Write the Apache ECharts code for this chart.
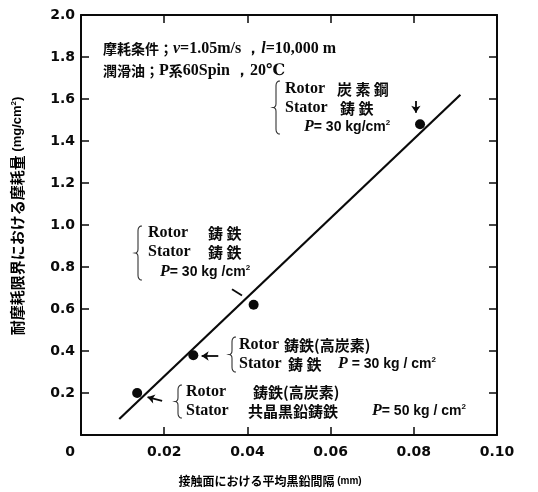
<!DOCTYPE html>
<html>
<head>
<meta charset="utf-8">
<script src="https://cdn.jsdelivr.net/npm/echarts@6/dist/echarts.min.js"></script>
<style>
html, body { margin: 0; padding: 0; background: #fff; }
#chart { width: 538px; height: 492px; }
</style>
</head>
<body>
<div id="chart"></div>
<script>
// Axis ranges and tick steps
const xRange = [0, 0.10];
const xStep = 0.02;
const yRange = [0, 2.0];
const yStep = 0.2;

// Measured points: mean graphite spacing on the contact face (mm) vs wear (mg/cm^2)
const spacing = [0.0815, 0.0415, 0.027, 0.0135];
const wear = [1.48, 0.62, 0.38, 0.20];

// End points of the fitted straight line
const fitSpacing = [0.0092, 0.0912];
const fitWear = [0.076, 1.62];

// Leader marks from each note to its point
const leaderFrom = [[0.0805, 1.59], [0.0363, 0.694], [0.0330, 0.376], [0.0195, 0.162]];
const leaderTo = [[0.0805, 1.535], [0.0387, 0.664], [0.0290, 0.376], [0.0160, 0.180]];
const leaderArrow = [true, false, true, true];

const INK = '#0a0a0a';
const SERIF = '"Liberation Serif", "DejaVu Serif", serif';
const SANS = '"Liberation Sans", "DejaVu Sans", sans-serif';
const CJK = '"Noto Sans CJK JP", "Noto Sans CJK SC", sans-serif';

const chart = echarts.init(document.getElementById('chart'));

const rich = {
  c: { fontFamily: CJK, fontSize: 14, fontWeight: 'bold', color: INK },
  a: { fontFamily: CJK, fontSize: 15, fontWeight: 'bold', color: INK },
  b: { fontFamily: SERIF, fontSize: 16, fontWeight: 'bold', color: INK },
  i: { fontFamily: SERIF, fontSize: 16, fontWeight: 'bold', fontStyle: 'italic', color: INK },
  s: { fontFamily: SANS, fontSize: 14, fontWeight: 'bold', color: INK },
  sup: { fontFamily: SANS, fontSize: 8, fontWeight: 'bold', color: INK, verticalAlign: 'top', padding: [0, 0, 6, 0] }
};

function txt(x, y, text) {
  return {
    type: 'text', x: x, y: y, silent: true,
    style: { text: text, rich: rich, verticalAlign: 'middle', fill: INK }
  };
}

// Quadratic curve sampled into points
function quad(p0, c, p1, n) {
  const pts = [];
  for (let k = 0; k <= n; k++) {
    const t = k / n, u = 1 - t;
    pts.push([u * u * p0[0] + 2 * u * t * c[0] + t * t * p1[0],
              u * u * p0[1] + 2 * u * t * c[1] + t * t * p1[1]]);
  }
  return pts;
}

// Curly brace opening to the right
function brace(x, y0, y1) {
  const w = 4, ym = (y0 + y1) / 2;
  const pts = [].concat(
    quad([x + w, y0], [x, y0], [x, y0 + 5], 6),
    quad([x, ym - 4], [x, ym], [x - 3, ym], 4),
    quad([x - 3, ym], [x, ym], [x, ym + 4], 4),
    quad([x, y1 - 5], [x, y1], [x + w, y1], 6)
  );
  return { type: 'polyline', silent: true, shape: { points: pts },
           style: { fill: null, stroke: '#333', lineWidth: 1.1 } };
}

const titleRichX = Object.assign({}, rich, {
  c: { fontFamily: CJK, fontSize: 12, fontWeight: 'bold', color: INK },
  t: { fontFamily: SANS, fontSize: 10, fontWeight: 'bold', color: INK }
});
const titleRichY = Object.assign({}, rich, {
  c: { fontFamily: CJK, fontSize: 15, fontWeight: 'bold', color: INK },
  t: { fontFamily: SANS, fontSize: 13, fontWeight: 'bold', color: INK }
});

const graphics = [
  // Test conditions
  txt(103, 49, '{c|摩耗条件；}{i|v}{b|=1.05m/s ，}{i|l}{b|=10,000 m}'),
  txt(103, 71, '{c|潤滑油；}{b|P}{c|系}{b|60Spin ，20℃}'),

  // Rotor carbon steel / stator cast iron
  brace(276, 81, 134),
  txt(285, 89, '{b|Rotor}'), txt(337, 89, '{a|炭 素 鋼}'),
  txt(285, 108, '{b|Stator}'), txt(340, 108, '{a|鋳 鉄}'),
  txt(304, 127, '{i|P}{s|= 30 kg/cm}{sup|2}'),

  // Rotor cast iron / stator cast iron
  brace(138, 226, 280),
  txt(148, 233, '{b|Rotor}'), txt(208, 233, '{a|鋳 鉄}'),
  txt(148, 252, '{b|Stator}'), txt(208, 252, '{a|鋳 鉄}'),
  txt(160, 272, '{i|P}{s|= 30 kg /cm}{sup|2}'),

  // Rotor high-carbon cast iron / stator cast iron
  brace(232, 337, 372),
  txt(239, 345, '{b|Rotor}'), txt(284, 345, '{a|鋳鉄(高炭素)}'),
  txt(239, 364, '{b|Stator}'), txt(288, 364, '{a|鋳 鉄}'),
  txt(338, 364, '{i|P}{s| = 30 kg / cm}{sup|2}'),

  // Rotor high-carbon cast iron / stator eutectic graphite cast iron
  brace(178, 385, 418),
  txt(186, 392, '{b|Rotor}'), txt(253, 392, '{a|鋳鉄(高炭素)}'),
  txt(186, 411, '{b|Stator}'), txt(248, 411, '{a|共晶黒鉛鋳鉄}'),
  txt(372, 411, '{i|P}{s|= 50 kg / cm}{sup|2}'),

  // Axis titles
  {
    type: 'text', x: 270, y: 481, silent: true,
    style: { text: '{c|接触面における平均黒鉛間隔}{t| (mm)}', align: 'center', verticalAlign: 'middle', rich: titleRichX }
  },
  {
    type: 'text', x: 17, y: 216, rotation: Math.PI / 2, silent: true,
    style: { text: '{c|耐摩耗限界における摩耗量}{t| (mg/cm}{sup|2}{t|)}', align: 'center', verticalAlign: 'middle', rich: titleRichY }
  }
];

const tickStyle = { show: true, inside: true, length: 8, lineStyle: { color: INK, width: 1.5 } };
const numFont = { fontFamily: '"DejaVu Sans", sans-serif', fontWeight: 'bold', fontSize: 14, color: INK };

const leaderData = leaderFrom.map((p, i) => ({
  coords: [p, leaderTo[i]],
  symbol: leaderArrow[i] ? ['none', 'arrow'] : ['none', 'none'],
  symbolSize: [6, 7]
}));

chart.setOption({
  animation: false,
  backgroundColor: '#fff',
  grid: { left: 81, right: 41, top: 15, bottom: 57, show: false },
  xAxis: [{
    type: 'value', min: xRange[0], max: xRange[1], interval: xStep,
    axisLine: { show: true, onZero: false, lineStyle: { color: INK, width: 2 } },
    axisTick: tickStyle, splitLine: { show: false },
    axisLabel: Object.assign({}, numFont, {
      margin: 10,
      formatter: v => v === 0 ? '{z|0}' : v.toFixed(2),
      rich: { z: Object.assign({}, numFont, { padding: [0, 22, 0, 0] }) }
    })
  }, {
    type: 'value', position: 'top', min: xRange[0], max: xRange[1], interval: xStep,
    axisLine: { show: true, onZero: false, lineStyle: { color: INK, width: 2 } },
    axisTick: tickStyle, axisLabel: { show: false }, splitLine: { show: false }
  }],
  yAxis: [{
    type: 'value', min: yRange[0], max: yRange[1], interval: yStep,
    axisLine: { show: true, onZero: false, lineStyle: { color: INK, width: 2 } },
    axisTick: tickStyle, splitLine: { show: false },
    axisLabel: Object.assign({}, numFont, {
      margin: 6,
      formatter: v => v === 0 ? '' : v.toFixed(1)
    })
  }, {
    type: 'value', position: 'right', min: yRange[0], max: yRange[1], interval: yStep,
    axisLine: { show: true, onZero: false, lineStyle: { color: INK, width: 2 } },
    axisTick: tickStyle, axisLabel: { show: false }, splitLine: { show: false }
  }],
  series: [{
    type: 'line',
    data: fitSpacing.map((x, i) => [x, fitWear[i]]),
    showSymbol: false, symbol: 'none',
    lineStyle: { color: INK, width: 2.2 },
    z: 3
  }, {
    type: 'scatter',
    data: spacing.map((x, i) => [x, wear[i]]),
    symbol: 'circle', symbolSize: 10,
    itemStyle: { color: INK, opacity: 1 },
    z: 4
  }, {
    type: 'lines',
    coordinateSystem: 'cartesian2d',
    data: leaderData,
    lineStyle: { color: INK, width: 1.8, opacity: 1 },
    z: 4
  }],
  graphic: graphics
});
</script>
</body>
</html>
